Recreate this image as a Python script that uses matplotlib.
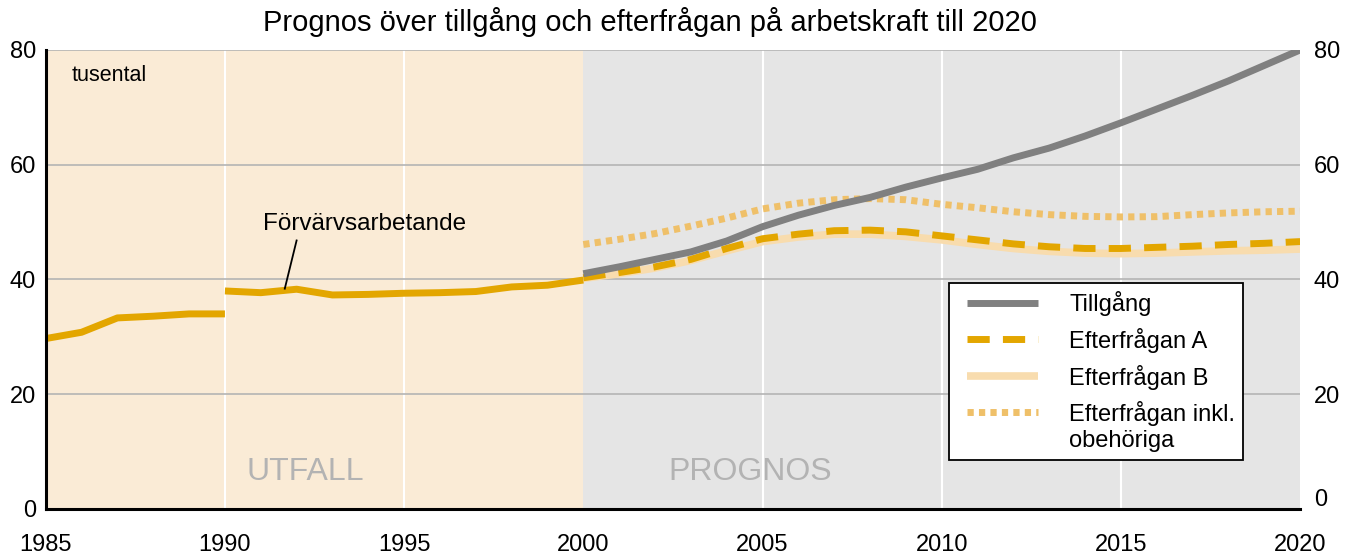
import matplotlib
matplotlib.use("Agg")
import matplotlib.pyplot as plt
from matplotlib.lines import Line2D
from matplotlib.legend_handler import HandlerLine2D

# data (tusental)
years_a = [1985, 1986, 1987, 1988, 1989, 1990]
forv_a = [29.7, 30.8, 33.3, 33.6, 34.0, 34.0]
years_b = [1990, 1991, 1992, 1993, 1994, 1995, 1996, 1997, 1998, 1999, 2000]
forv_b = [38.0, 37.7, 38.3, 37.3, 37.4, 37.6, 37.7, 37.9, 38.7, 39.0, 39.9]

years_prog = list(range(2000, 2021))
tillgang = [41.0, 42.2, 43.5, 44.8, 46.7, 49.2, 51.2, 52.9, 54.3, 56.1, 57.7,
            59.2, 61.2, 62.9, 65.0, 67.3, 69.7, 72.1, 74.6, 77.3, 80.0]
eft_a = [40.3, 41.2, 42.2, 43.5, 45.4, 47.1, 47.9, 48.5, 48.6, 48.3, 47.6,
         46.9, 46.2, 45.7, 45.4, 45.4, 45.6, 45.8, 46.1, 46.3, 46.6]
eft_b = [40.2, 41.0, 42.0, 43.3, 45.0, 46.6, 47.4, 47.9, 47.9, 47.5, 46.9,
         46.1, 45.4, 44.9, 44.6, 44.5, 44.6, 44.8, 45.0, 45.1, 45.3]
eft_inkl = [46.1, 47.0, 48.0, 49.3, 50.7, 52.3, 53.3, 53.9, 54.1, 53.9, 53.1,
            52.5, 51.8, 51.3, 51.0, 50.9, 50.95, 51.3, 51.6, 51.8, 51.9]

xticks = [1985, 1990, 1995, 2000, 2005, 2010, 2015, 2020]
yticks = [0, 20, 40, 60, 80]

GOLD = "#e3a600"
LIGHT = "#f8dcae"
DOT = "#efc069"
GRAY = "#808080"

plt.rcParams['font.family'] = ['Liberation Sans', 'DejaVu Sans']


class ShiftedLine(HandlerLine2D):
    # legendlinjen lite indragen, och uppflyttad för tvåradig text
    def __init__(self, xoff=0, shift=0, **kw):
        super().__init__(**kw)
        self.xoff = xoff
        self.shift = shift

    def create_artists(self, legend, orig_handle, xdescent, ydescent, width, height, fontsize, trans):
        arts = super().create_artists(legend, orig_handle, xdescent, ydescent, width, height, fontsize, trans)
        line = arts[0]
        xd = list(line.get_xdata())
        xd[0] = xd[0] + self.xoff
        line.set_xdata(xd)
        line.set_ydata([y + self.shift for y in line.get_ydata()])
        return arts


fig = plt.figure(figsize=(13.53, 5.57), dpi=100)
ax = fig.add_axes([0.0338, 0.0862, 0.9271, 0.8241])

# bakgrund utfall / prognos
ax.axvspan(1985, 2000, color="#faebd6", lw=0, zorder=0)
ax.axvspan(2000, 2020, color="#e5e5e5", lw=0, zorder=0)
for x in [1990, 1995, 2005, 2010, 2015]:
    ax.axvline(x, color="white", lw=1.5, zorder=1)
for y in [20, 40, 60, 80]:
    ax.axhline(y, color="#b4b4b4", lw=1.2, zorder=1)

ax.text(1992.25, 6.4, "UTFALL", color="#b3b3b3", fontsize=23, ha="center", va="center", zorder=2)
ax.text(2004.65, 6.4, "PROGNOS", color="#b3b3b3", fontsize=23, ha="center", va="center", zorder=2)

ax.plot(years_prog, eft_b, color=LIGHT, lw=5.5, solid_capstyle="butt", zorder=3, label="Efterfrågan B")
ax.plot(years_prog, eft_a, color=GOLD, lw=5, linestyle=(0, (3.2, 1.9)), dash_capstyle="butt",
        zorder=4, label="Efterfrågan A")
l_inkl, = ax.plot(years_prog, eft_inkl, color=DOT, lw=5, linestyle=(0, (0.9, 0.75)), dash_capstyle="butt",
                  zorder=4, label="Efterfrågan inkl.\nobehöriga")
ax.plot(years_prog, tillgang, color=GRAY, lw=5, solid_capstyle="butt", zorder=5, label="Tillgång")
ax.plot(years_a, forv_a, color=GOLD, lw=5, solid_capstyle="butt", zorder=6)
ax.plot(years_b, forv_b, color=GOLD, lw=5, solid_capstyle="butt", zorder=6)

ax.text(1985.73, 75.6, "tusental", fontsize=15.5, ha="left", va="center")
ax.text(1991.07, 49.6, "Förvärvsarbetande", fontsize=17.5, ha="left", va="center")
ax.plot([1992.0, 1991.67], [46.8, 38.4], color="black", lw=1.3, zorder=7)

ax.set_xlim(1985, 2020)
ax.set_ylim(0, 80)
ax.set_xticks(xticks)
ax.set_yticks(yticks)
ax.tick_params(axis="x", length=0, pad=18, labelsize=17)
ax.tick_params(axis="y", length=0, pad=7, labelsize=17)
for s in ["top", "right"]:
    ax.spines[s].set_visible(False)
ax.spines["left"].set_linewidth(2.2)
ax.spines["bottom"].set_linewidth(2.2)
ax.spines["left"].set_zorder(7)
ax.spines["bottom"].set_zorder(7)

ax2 = ax.twinx()
ax2.set_ylim(0, 80)
ax2.set_yticks([2, 20, 40, 60, 80], ["0", "20", "40", "60", "80"])
ax2.tick_params(axis="y", length=0, pad=10, labelsize=17)
for s in ax2.spines.values():
    s.set_visible(False)

handles, labels = ax.get_legend_handles_labels()
order = [3, 1, 0, 2]
hmap = {h: ShiftedLine(xoff=7.2) for h in handles}
hmap[l_inkl] = ShiftedLine(xoff=7.2, shift=11)
leg = ax2.legend([handles[i] for i in order], [labels[i] for i in order],
                 loc="upper left", bbox_to_anchor=(0.7202, 0.493), borderaxespad=0,
                 fontsize=17, handlelength=3.43, handletextpad=1.3, borderpad=0.35,
                 labelspacing=0.5, fancybox=False, framealpha=1, edgecolor="black",
                 handler_map=hmap)
leg.get_frame().set_linewidth(1.3)

fig.text(0.48, 0.96, "Prognos över tillgång och efterfrågan på arbetskraft till 2020",
         fontsize=21, ha="center", va="center")

fig.savefig("out.png", dpi=100)
